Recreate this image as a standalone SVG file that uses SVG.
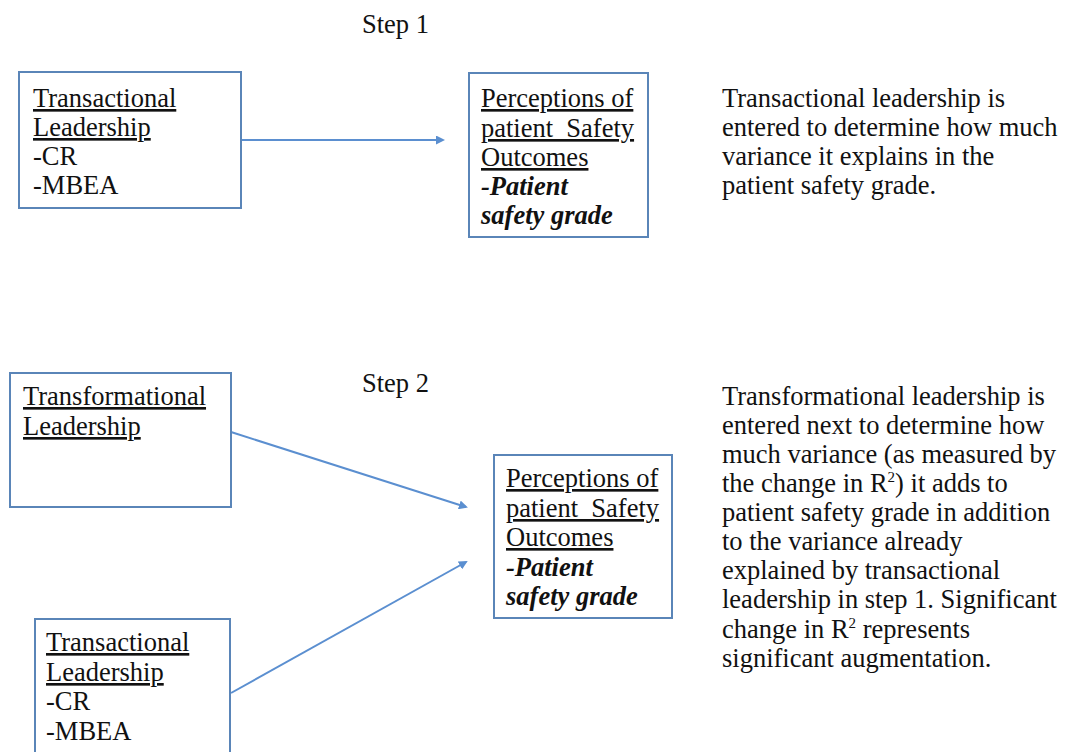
<svg xmlns="http://www.w3.org/2000/svg" width="1065" height="752" viewBox="0 0 1065 752">
<style>
.box{fill:#fff;stroke:#5a85b8;stroke-width:2}
.t{font-size:26.5px;fill:#111}
.u{text-decoration:underline}
.bi{font-weight:bold;font-style:italic}
.c{stroke:#5b8fd0;stroke-width:2;fill:none}
</style>
<defs>
<marker id="ah" markerWidth="9" markerHeight="9" refX="7" refY="4.5" orient="auto" markerUnits="userSpaceOnUse">
<path d="M0,0 L9,4.5 L0,9 Z" fill="#5b8fd0"/>
</marker>
</defs>
<rect width="1065" height="752" fill="#fff"/>
<g font-family="Liberation Serif, Times New Roman, serif">
<text class="t" x="362" y="33">Step 1</text>
<text class="t" x="362" y="392">Step 2</text>
<g id="connectors">
<line class="c" x1="241" y1="140" x2="443" y2="140" marker-end="url(#ah)"/>
<line class="c" x1="231" y1="432" x2="466" y2="507" marker-end="url(#ah)"/>
<line class="c" x1="231" y1="693" x2="466" y2="562" marker-end="url(#ah)"/>
</g>
<g id="n1">
<rect class="box" x="19" y="72" width="222" height="136"/>
<text class="t"><tspan class="u" x="33" y="107">Transactional</tspan><tspan class="u" x="33" y="136">Leadership</tspan><tspan x="33" y="165">-CR</tspan><tspan x="33" y="194">-MBEA</tspan></text>
</g>
<g id="n2">
<rect class="box" x="469" y="73" width="179" height="164"/>
<text class="t"><tspan class="u" x="481" y="107">Perceptions of</tspan><tspan class="u" x="481" y="137">patient&#160; Safety</tspan><tspan class="u" x="481" y="166">Outcomes</tspan><tspan class="bi" x="481" y="195">-Patient</tspan><tspan class="bi" x="481" y="224">safety grade</tspan></text>
</g>
<g id="d1">
<text class="t"><tspan x="722" y="107">Transactional leadership is</tspan><tspan x="722" y="136">entered to determine how much</tspan><tspan x="722" y="165">variance it explains in the</tspan><tspan x="722" y="194">patient safety grade.</tspan></text>
</g>
<g id="n3">
<rect class="box" x="10" y="373" width="221" height="134"/>
<text class="t"><tspan class="u" x="23" y="405">Transformational</tspan><tspan class="u" x="23" y="435">Leadership</tspan></text>
</g>
<g id="n4">
<rect class="box" x="494" y="455" width="178" height="163"/>
<text class="t"><tspan class="u" x="506" y="487">Perceptions of</tspan><tspan class="u" x="506" y="517">patient&#160; Safety</tspan><tspan class="u" x="506" y="546">Outcomes</tspan><tspan class="bi" x="506" y="576">-Patient</tspan><tspan class="bi" x="506" y="605">safety grade</tspan></text>
</g>
<g id="n5">
<rect class="box" x="35" y="619" width="195" height="140"/>
<text class="t"><tspan class="u" x="46" y="651">Transactional</tspan><tspan class="u" x="46" y="681">Leadership</tspan><tspan x="46" y="710">-CR</tspan><tspan x="46" y="740">-MBEA</tspan></text>
</g>
<g id="d2">
<text class="t"><tspan x="722" y="405">Transformational leadership is</tspan><tspan x="722" y="434">entered next to determine how</tspan><tspan x="722" y="463">much variance (as measured by</tspan><tspan x="722" y="492">the change in R<tspan font-size="15" dy="-10">2</tspan><tspan dy="10">) it adds to</tspan></tspan><tspan x="722" y="521">patient safety grade in addition</tspan><tspan x="722" y="550">to the variance already</tspan><tspan x="722" y="579">explained by transactional</tspan><tspan x="722" y="608">leadership in step 1. Significant</tspan><tspan x="722" y="638">change in R<tspan font-size="15" dy="-10">2</tspan><tspan dy="10"> represents</tspan></tspan><tspan x="722" y="667">significant augmentation.</tspan></text>
</g>
</g>
</svg>
